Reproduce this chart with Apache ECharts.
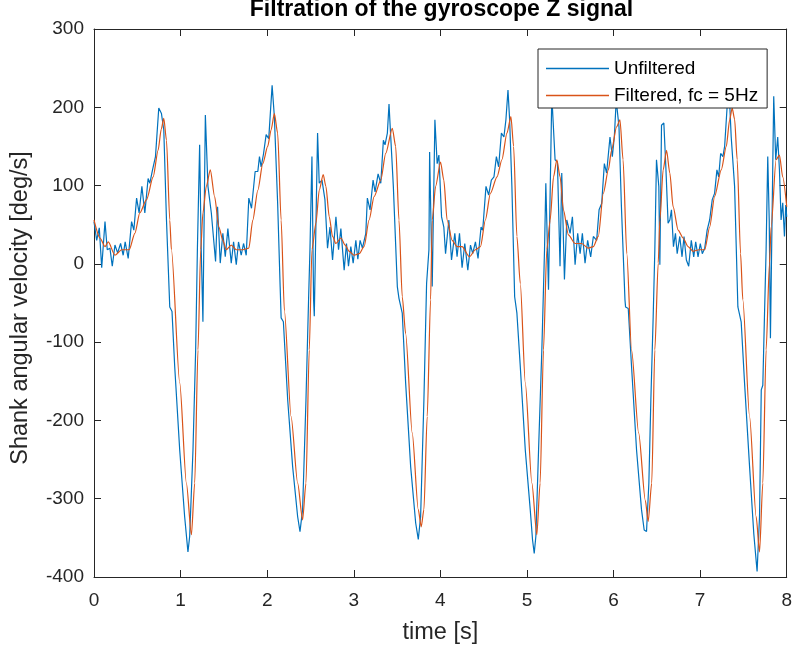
<!DOCTYPE html>
<html>
<head>
<meta charset="utf-8">
<title>Filtration of the gyroscope Z signal</title>
<script src="https://cdn.jsdelivr.net/npm/echarts@6/dist/echarts.min.js"></script>
<style>
  html, body { margin: 0; padding: 0; background: #fff; }
  #chart { width: 795px; height: 655px; }
</style>
</head>
<body>
<div id="chart"></div>
<script>
// raw gyro signal (time in s, value in deg/s)
const unfT = [0, 0.031, 0.061, 0.089, 0.127, 0.153, 0.184, 0.211, 0.242, 0.273, 0.307, 0.337, 0.360, 0.395, 0.434, 0.460, 0.492, 0.521, 0.553, 0.587, 0.625, 0.645, 0.676, 0.710, 0.748, 0.779, 0.806, 0.837, 0.875, 0.901, 0.932, 0.990, 1.047, 1.085, 1.105, 1.143, 1.174, 1.194, 1.220, 1.238, 1.258, 1.286, 1.316, 1.355, 1.378, 1.404, 1.427, 1.458, 1.488, 1.516, 1.546, 1.585, 1.612, 1.643, 1.669, 1.700, 1.727, 1.758, 1.788, 1.819, 1.861, 1.892, 1.911, 1.930, 1.957, 1.988, 2.018, 2.057, 2.083, 2.121, 2.150, 2.161, 2.187, 2.237, 2.294, 2.352, 2.379, 2.409, 2.448, 2.478, 2.494, 2.517, 2.536, 2.544, 2.582, 2.601, 2.633, 2.667, 2.697, 2.725, 2.755, 2.794, 2.824, 2.851, 2.889, 2.916, 2.939, 2.966, 2.993, 3.024, 3.047, 3.073, 3.100, 3.139, 3.157, 3.188, 3.223, 3.246, 3.281, 3.312, 3.342, 3.361, 3.388, 3.407, 3.427, 3.457, 3.503, 3.522, 3.560, 3.599, 3.657, 3.715, 3.745, 3.772, 3.810, 3.841, 3.868, 3.876, 3.906, 3.914, 3.937, 3.963, 3.983, 4.014, 4.040, 4.060, 4.098, 4.129, 4.167, 4.193, 4.221, 4.251, 4.282, 4.317, 4.348, 4.374, 4.405, 4.435, 4.470, 4.489, 4.527, 4.558, 4.589, 4.619, 4.647, 4.673, 4.705, 4.734, 4.757, 4.781, 4.800, 4.826, 4.858, 4.884, 4.923, 4.981, 5.038, 5.065, 5.084, 5.103, 5.134, 5.172, 5.203, 5.218, 5.249, 5.287, 5.325, 5.352, 5.382, 5.402, 5.433, 5.460, 5.498, 5.525, 5.556, 5.586, 5.614, 5.640, 5.671, 5.701, 5.736, 5.767, 5.805, 5.833, 5.863, 5.894, 5.920, 5.959, 5.986, 6.009, 6.031, 6.063, 6.091, 6.132, 6.139, 6.170, 6.208, 6.266, 6.323, 6.354, 6.381, 6.408, 6.431, 6.458, 6.477, 6.496, 6.523, 6.535, 6.554, 6.581, 6.604, 6.630, 6.650, 6.669, 6.692, 6.715, 6.735, 6.765, 6.791, 6.814, 6.841, 6.868, 6.898, 6.926, 6.949, 6.976, 7.002, 7.025, 7.053, 7.081, 7.110, 7.140, 7.167, 7.194, 7.214, 7.237, 7.263, 7.283, 7.312, 7.332, 7.359, 7.398, 7.436, 7.474, 7.513, 7.571, 7.620, 7.658, 7.686, 7.706, 7.724, 7.743, 7.762, 7.781, 7.798, 7.812, 7.831, 7.850, 7.873, 7.896, 7.916, 7.935, 7.954, 7.974, 7.989, 8.0];
const unfV = [54, 30, 46, -5, 54, 18, 20, -3, 24, 14, 26, 11, 28, 7, 54, 43, 84, 65, 99, 65, 109, 103, 120, 137, 199, 192, 171, 56, -55, -61, -131, -238, -323, -368, -348, -238, -110, 18, 152, 20, -74, 190, 99, 65, 65, 3, 73, 1, 39, 9, 45, 1, 28, -1, 28, 11, 26, 11, 84, 71, 118, 118, 137, 124, 140, 165, 160, 228, 188, 77, -30, -69, -74, -174, -259, -323, -342, -314, -174, -46, 18, 137, -46, -67, 167, 103, 107, 82, 20, 47, 5, 60, 18, 45, -8, 26, -3, 22, 1, 30, 6, 30, 20, 39, 84, 69, 107, 92, 115, 103, 158, 152, 167, 204, 162, 99, -29, -44, -63, -152, -259, -331, -352, -323, -174, -25, 18, 143, -29, -31, 184, 128, 139, 60, 47, 13, 56, 5, 39, 9, 39, -5, 26, -8, 24, 13, 28, 7, 47, 43, 99, 88, 107, 111, 137, 124, 167, 162, 184, 222, 184, 99, -42, -63, -131, -238, -314, -353, -370, -348, -238, -110, 18, 103, -33, 215, 133, 130, -3, 116, -20, 56, 39, 60, -1, 39, 13, 39, 1, 30, 9, 35, 30, 69, 77, 128, 116, 162, 137, 162, 209, 175, 73, -46, -55, -57, -131, -238, -314, -340, -342, -280, -174, -67, 18, 133, 99, -1, 177, 180, 124, 52, 56, 69, 22, 39, 13, 35, 9, 35, 5, -3, 30, 9, 28, 9, 26, 13, 20, 43, 56, 82, 90, 120, 111, 141, 137, 150, 201, 228, 162, 99, -55, -74, -152, -259, -345, -393, -323, -161, -155, -67, 18, 137, 56, -95, 60, 214, 133, 162, 120, 56, 78, 35, 75, 60];

// low-pass filtered signal, fc = 5 Hz
const filT = [0, 0.069, 0.127, 0.165, 0.242, 0.319, 0.406, 0.472, 0.529, 0.607, 0.683, 0.740, 0.777, 0.806, 0.837, 0.875, 0.894, 0.990, 1.067, 1.125, 1.163, 1.201, 1.232, 1.258, 1.297, 1.343, 1.393, 1.442, 1.488, 1.527, 1.585, 1.643, 1.719, 1.788, 1.834, 1.892, 1.949, 2.006, 2.045, 2.083, 2.121, 2.161, 2.199, 2.276, 2.352, 2.409, 2.448, 2.486, 2.517, 2.563, 2.601, 2.647, 2.678, 2.717, 2.755, 2.794, 2.851, 2.901, 2.947, 3.004, 3.062, 3.119, 3.177, 3.235, 3.312, 3.369, 3.445, 3.484, 3.522, 3.560, 3.599, 3.675, 3.745, 3.779, 3.810, 3.848, 3.887, 3.906, 3.945, 4.002, 4.040, 4.078, 4.136, 4.193, 4.251, 4.336, 4.405, 4.463, 4.520, 4.578, 4.654, 4.711, 4.769, 4.815, 4.846, 4.884, 4.923, 4.981, 5.057, 5.114, 5.152, 5.191, 5.229, 5.268, 5.307, 5.345, 5.383, 5.421, 5.479, 5.556, 5.632, 5.709, 5.767, 5.824, 5.882, 5.940, 5.977, 6.035, 6.074, 6.110, 6.153, 6.208, 6.290, 6.367, 6.400, 6.441, 6.477, 6.516, 6.535, 6.573, 6.612, 6.650, 6.688, 6.746, 6.803, 6.861, 6.918, 6.987, 7.053, 7.110, 7.167, 7.244, 7.302, 7.341, 7.370, 7.398, 7.428, 7.467, 7.493, 7.571, 7.647, 7.686, 7.724, 7.762, 7.801, 7.820, 7.877, 7.916, 7.954, 8.0];
const filV = [56, 33, 22, 28, 11, 18, 18, 39, 65, 82, 111, 145, 172, 186, 158, 56, 18, -152, -280, -346, -280, -110, 18, 65, 99, 120, 86, 47, 30, 18, 24, 18, 18, 20, 56, 94, 128, 150, 171, 192, 167, 56, -60, -195, -280, -327, -280, -110, 18, 52, 94, 114, 99, 60, 35, 26, 33, 24, 16, 11, 13, 22, 56, 86, 107, 141, 173, 150, 56, -42, -89, -216, -314, -336, -314, -195, -46, 56, 99, 130, 107, 56, 30, 22, 22, 9, 18, 22, 56, 90, 111, 133, 167, 188, 150, 35, -25, -152, -280, -346, -280, -110, 18, 56, 111, 133, 111, 69, 37, 26, 26, 20, 22, 35, 90, 120, 145, 175, 184, 133, 13, -110, -216, -302, -329, -280, -110, 1, 56, 120, 145, 116, 73, 43, 33, 22, 16, 18, 18, 47, 86, 120, 150, 184, 199, 185, 133, 13, -46, -195, -323, -368, -280, -110, 1, 47, 133, 139, 111, 73];

const seriesNames = ['Unfiltered', 'Filtered, fc = 5Hz'];
const xTicks = [0, 8, 1];        // min, max, step
const yTicks = [-400, 300, 100];

const font = 'Liberation Sans, Arial, Helvetica, sans-serif';
const axisColor = '#262626';

const pair = (ts, vs) => ts.map((t, i) => [t, vs[i]]);

const chart = echarts.init(document.getElementById('chart'));

// shared look for the boxed axes, MATLAB style (ticks inside)
const boxAxis = (extra) => Object.assign({
  type: 'value',
  axisLine: { show: true, onZero: false, lineStyle: { color: axisColor, width: 1 } },
  axisTick: { show: true, inside: true, length: 7, lineStyle: { color: axisColor } },
  splitLine: { show: false },
}, extra);

const option = {
  backgroundColor: '#fff',
  animation: false,
  title: {
    text: 'Filtration of the gyroscope Z signal',
    left: 441.5,
    top: -2,
    textAlign: 'center',
    padding: 0,
    textStyle: { fontFamily: font, fontSize: 23, fontWeight: 'bold', color: '#000' },
  },
  legend: {
    orient: 'vertical',
    left: 538,
    top: 49,
    backgroundColor: '#fff',
    borderColor: axisColor,
    borderWidth: 1,
    borderRadius: 0,
    padding: [10, 9, 3, 8],
    itemGap: 8,
    itemWidth: 63,
    itemHeight: 1.5,
    icon: 'rect',
    textStyle: { fontFamily: font, fontSize: 19, color: '#000' },
    data: seriesNames,
  },
  grid: { left: 94, right: 6, top: 29, bottom: 78, containLabel: false },
  xAxis: [
    boxAxis({
      position: 'bottom',
      min: xTicks[0], max: xTicks[1], interval: xTicks[2],
      name: 'time [s]',
      nameLocation: 'middle',
      nameGap: 44,
      nameTextStyle: { fontFamily: font, fontSize: 23.5, color: '#262626' },
      axisLabel: { fontFamily: font, fontSize: 19, color: '#262626', margin: 14 },
    }),
    boxAxis({
      position: 'top',
      min: xTicks[0], max: xTicks[1], interval: xTicks[2],
      axisLabel: { show: false },
    }),
  ],
  yAxis: [
    boxAxis({
      position: 'left',
      min: yTicks[0], max: yTicks[1], interval: yTicks[2],
      name: 'Shank angular velocity [deg/s]',
      nameLocation: 'middle',
      nameGap: 61,
      nameRotate: 90,
      nameTextStyle: { fontFamily: font, fontSize: 23.5, color: '#262626', padding: [0, 10, 0, 0] },
      axisLabel: { fontFamily: font, fontSize: 19, color: '#262626', margin: 10 },
    }),
    boxAxis({
      position: 'right',
      min: yTicks[0], max: yTicks[1], interval: yTicks[2],
      axisLabel: { show: false },
    }),
  ],
  series: [
    {
      name: seriesNames[0],
      type: 'line',
      data: pair(unfT, unfV),
      showSymbol: false,
      symbol: 'none',
      color: '#0072BD',
      lineStyle: { width: 1.2, color: '#0072BD' },
      z: 2,
    },
    {
      name: seriesNames[1],
      type: 'line',
      data: pair(filT, filV),
      showSymbol: false,
      symbol: 'none',
      smooth: 0.25,
      smoothMonotone: 'x',
      color: '#D95319',
      lineStyle: { width: 1.2, color: '#D95319' },
      z: 3,
    },
  ],
};

chart.setOption(option);
</script>
</body>
</html>
